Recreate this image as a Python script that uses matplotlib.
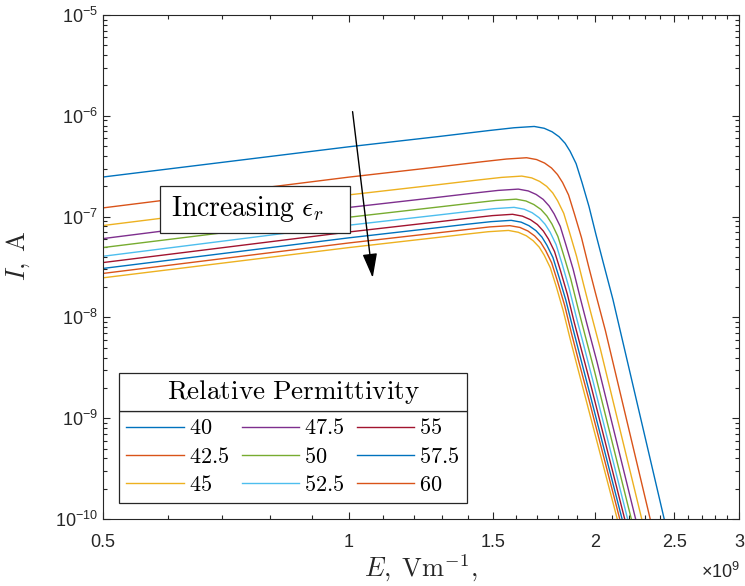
import matplotlib
matplotlib.use('Agg')
import matplotlib.pyplot as plt
import numpy as np
from matplotlib.ticker import FixedLocator, FuncFormatter, LogLocator, NullFormatter
from matplotlib.patches import Rectangle

plt.rcParams['font.family'] = ['Liberation Sans', 'DejaVu Sans']
plt.rcParams['mathtext.fontset'] = 'cm'

# field in 1e9 V/m, current in 1e-9 A
eps_labels = ['40', '42.5', '45', '47.5', '50', '52.5', '55', '57.5', '60']

field_1 = [0.5, 1.0, 1.29, 1.485, 1.592, 1.685, 1.733, 1.772, 1.807, 1.838, 1.864, 1.896, 1.928, 1.966, 2.005, 2.045, 2.103, 2.43]
current_1 = [247, 493, 624, 715, 761, 784, 752, 694, 620, 534, 445, 335, 217, 126, 66.3, 35.8, 15.1, 0.1]

field_2 = [0.5, 1.0, 1.29, 1.454, 1.558, 1.649, 1.696, 1.735, 1.769, 1.799, 1.825, 1.856, 1.887, 1.925, 1.963, 2.002, 2.059, 2.336]
current_2 = [122, 246.5, 312, 350, 372.5, 383.7, 368.1, 339.7, 303.5, 261.4, 217.8, 164, 106.2, 61.7, 32.5, 17.5, 7.39, 0.1]

field_3 = [0.5, 1.0, 1.29, 1.434, 1.537, 1.627, 1.673, 1.711, 1.745, 1.775, 1.800, 1.831, 1.861, 1.898, 1.936, 1.974, 2.030, 2.281]
current_3 = [81.5, 164.3, 208, 230.1, 244.9, 252.3, 242.1, 223.3, 199.6, 171.9, 143.2, 107.8, 69.8, 40.6, 21.3, 11.5, 4.86, 0.1]

field_4 = [0.5, 1.0, 1.29, 1.420, 1.522, 1.611, 1.657, 1.694, 1.728, 1.757, 1.782, 1.813, 1.843, 1.880, 1.917, 1.955, 2.011, 2.242]
current_4 = [60.5, 123.3, 156, 170.9, 181.9, 187.4, 179.7, 165.9, 148.2, 127.6, 106.4, 80.1, 51.9, 30.1, 15.9, 8.56, 3.61, 0.1]

field_5 = [0.5, 1.0, 1.29, 1.411, 1.512, 1.601, 1.646, 1.683, 1.717, 1.746, 1.771, 1.801, 1.831, 1.868, 1.905, 1.943, 1.998, 2.215]
current_5 = [49.3, 98.6, 124.8, 135.8, 144.6, 148.9, 142.9, 131.8, 117.8, 101.4, 84.5, 63.6, 41.2, 23.9, 12.6, 6.8, 2.87, 0.1]

field_6 = [0.5, 1.0, 1.29, 1.403, 1.504, 1.592, 1.638, 1.675, 1.708, 1.737, 1.762, 1.792, 1.822, 1.858, 1.895, 1.933, 1.987, 2.192]
current_6 = [40.4, 82.2, 104, 112.6, 119.8, 123.5, 118.4, 109.3, 97.6, 84.1, 70.1, 52.7, 34.2, 19.8, 10.4, 5.64, 2.38, 0.1]

field_7 = [0.5, 1.0, 1.29, 1.397, 1.498, 1.585, 1.630, 1.667, 1.700, 1.729, 1.754, 1.784, 1.814, 1.850, 1.886, 1.924, 1.979, 2.174]
current_7 = [35, 70.4, 89.1, 96.1, 102.3, 105.4, 101, 93.2, 83.4, 71.8, 59.8, 45.1, 29.2, 16.9, 8.91, 4.81, 2.03, 0.1]

field_8 = [0.5, 1.0, 1.29, 1.391, 1.492, 1.579, 1.624, 1.660, 1.693, 1.722, 1.746, 1.776, 1.806, 1.842, 1.879, 1.916, 1.970, 2.158]
current_8 = [30.6, 61.6, 78, 83.8, 89.1, 91.8, 88.1, 81.3, 72.6, 62.6, 52.1, 39.3, 25.4, 14.8, 7.77, 4.2, 1.77, 0.1]

field_9 = [0.5, 1.0, 1.29, 1.387, 1.486, 1.573, 1.618, 1.655, 1.687, 1.716, 1.740, 1.770, 1.800, 1.836, 1.872, 1.909, 1.964, 2.144]
current_9 = [27.3, 54.8, 69.3, 74.1, 79, 81.3, 78.1, 72, 64.3, 55.4, 46.1, 34.7, 22.5, 13.1, 6.88, 3.72, 1.57, 0.1]

field_10 = [0.5, 1.0, 1.29, 1.381, 1.480, 1.567, 1.611, 1.648, 1.680, 1.709, 1.733, 1.763, 1.793, 1.828, 1.864, 1.901, 1.955, 2.129]
current_10 = [24.7, 49.3, 62.4, 66.5, 70.8, 72.9, 69.9, 64.5, 57.6, 49.7, 41.4, 31.1, 20.2, 11.7, 6.16, 3.33, 1.40, 0.1]

fields = [field_1, field_2, field_3, field_4, field_5, field_6, field_7, field_8, field_9, field_10]
currents = [current_1, current_2, current_3, current_4, current_5, current_6, current_7, current_8, current_9, current_10]

x_ticks = [0.5, 1, 1.5, 2, 2.5, 3]
colors = ['#0072BD', '#D95319', '#EDB120', '#7E2F8E', '#77AC30', '#4DBEEE', '#A2142F']
axis_color = '#262626'

fig = plt.figure(figsize=(7.45, 5.86), dpi=100)
ax = fig.add_axes([103 / 745, 1 - 519 / 586, 636 / 745, 504 / 586])

lines = []
for n, (e, i) in enumerate(zip(fields, currents)):
    ln, = ax.plot(np.array(e) * 1e9, np.array(i) * 1e-9, color=colors[n % 7], lw=1.0)
    lines.append(ln)

ax.set_xscale('log')
ax.set_yscale('log')
ax.set_xlim(0.5e9, 3e9)
ax.set_ylim(1e-10, 1e-5)

ax.xaxis.set_major_locator(FixedLocator([t * 1e9 for t in x_ticks]))
ax.xaxis.set_major_formatter(FuncFormatter(lambda v, p: '%g' % (v / 1e9)))
ax.xaxis.set_minor_locator(FixedLocator([k * 1e8 for k in range(5, 31)]))
ax.xaxis.set_minor_formatter(NullFormatter())
ax.yaxis.set_major_locator(FixedLocator([10.0 ** p for p in range(-10, -4)]))
ax.yaxis.set_minor_locator(LogLocator(base=10, subs=range(2, 10), numticks=12))
ax.yaxis.set_minor_formatter(NullFormatter())
ax.yaxis.set_major_formatter(FuncFormatter(lambda v, p: r'$\mathregular{10^{%d}}$' % round(np.log10(v))))

ax.tick_params(which='both', direction='in', top=True, right=True, colors=axis_color,
               labelsize=13, width=0.8)
ax.tick_params(which='major', length=5)
ax.tick_params(which='minor', length=3)
ax.tick_params(axis='x', which='major', pad=11)
for s in ax.spines.values():
    s.set_color(axis_color)
    s.set_linewidth(0.8)

ax.set_xlabel(r'$E,\;\mathrm{Vm}^{-1},$', fontsize=19, color=axis_color, labelpad=1)
ax.set_ylabel(r'$I,\;\mathrm{A}$', fontsize=19, color=axis_color)
ax.yaxis.set_label_coords(-0.112, 0.522)
fig.text(740 / 745, 1 - 572 / 586, r'$\mathregular{\times10^{9}}$', ha='right', va='center',
         fontsize=13, color=axis_color)

# annotation box and arrow
ax.add_patch(Rectangle((0.0896, 0.567), 0.2988, 0.0944, transform=ax.transAxes,
                       fc='white', ec=axis_color, lw=0.9, zorder=5))
ax.text(0.107, 0.616, r'$\mathrm{Increasing}\ \epsilon_r$', transform=ax.transAxes,
        ha='left', va='center', fontsize=20, zorder=6)
ax.annotate('', xy=(1.069e9, 2.47e-8), xytext=(1.01e9, 1.1e-6),
            arrowprops=dict(arrowstyle='-|>,head_length=1.0,head_width=0.3', color='black',
                            lw=1.0, mutation_scale=15, shrinkA=0, shrinkB=0), zorder=6)

leg = ax.legend(lines[:9], ['$%s$' % s for s in eps_labels], ncol=3, loc='lower left',
                bbox_to_anchor=(0.0256, 0.0312), borderaxespad=0, fontsize=16,
                handlelength=2.57, handletextpad=0.23, columnspacing=0.57, labelspacing=0.33,
                fancybox=False, framealpha=1, edgecolor=axis_color, borderpad=0.32)
leg.get_frame().set_linewidth(0.9)

# legend title box sitting on top of the legend, as in the original
fig.canvas.draw()
r = fig.canvas.get_renderer()
fb = leg.get_frame().get_window_extent(r)
inv = fig.transFigure.inverted()
(x0, y0), (x1, y1) = inv.transform([(fb.x0, fb.y1), (fb.x1, fb.y1 + 38.5)])
fig.add_artist(Rectangle((x0, y0), x1 - x0, y1 - y0, transform=fig.transFigure,
                         fc='white', ec=axis_color, lw=0.9, zorder=10))
fig.text((x0 + x1) / 2, (y0 + y1) / 2, r'$\mathrm{Relative\ Permittivity}$', ha='center',
         va='center', fontsize=19.5, zorder=11)

fig.savefig('out.png', dpi=100)
